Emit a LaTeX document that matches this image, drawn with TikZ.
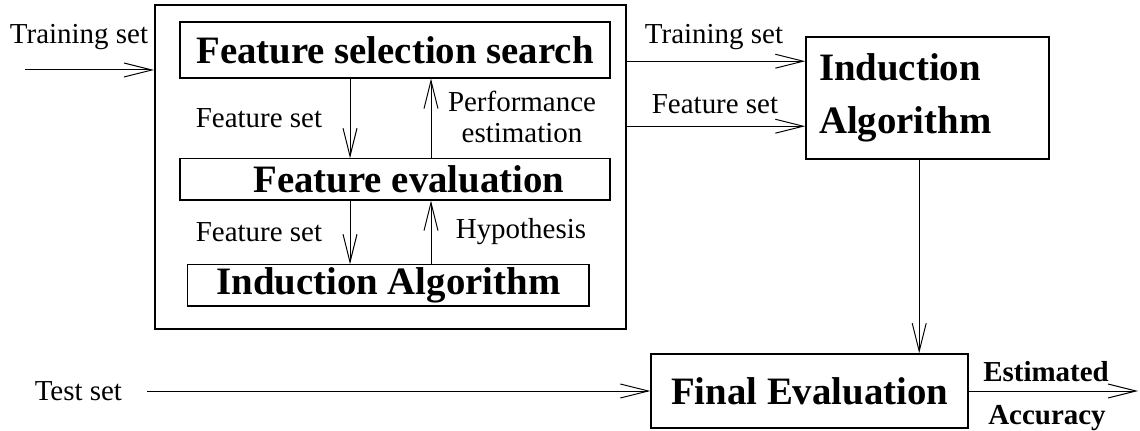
\documentclass[tikz,border=0pt]{standalone}
\usepackage{fontspec}
\setmainfont{Liberation Serif}
\usepackage{tikz}
\usetikzlibrary{arrows.meta, positioning, calc}

\tikzset{
    lbl/.style={font=\fontsize{20.6}{22}\selectfont},
    big/.style={font=\fontsize{27.6}{37.6}\selectfont\bfseries},
    inbox/.style={draw, line width=0.8pt, big, inner sep=0pt},
    mainbox/.style={draw, line width=1.1pt, big, inner sep=0pt},
    arr/.style={-{Straight Barb[length=0.7cm, width=0.35cm]}, line width=0.7pt}
}

\begin{document}
\begin{tikzpicture}
    \useasboundingbox (0, 0) rectangle (28.5, 10.775);

    % Wrapper around the selection loop
    \node[draw, line width=1.4pt, minimum width=11.775cm, minimum height=8.1cm, inner sep=0pt] (wrapper) at (9.7625, 6.6) {};

    % Inner boxes
    \node[inbox, minimum width=10.75cm, minimum height=1.4cm] (fss) at (9.875, 9.525) {Feature selection search};
    \node[inbox, minimum width=10.75cm, minimum height=1.03cm] (feval) at (9.875, 6.29) {\hspace*{0.7cm}Feature evaluation};
    \node[inbox, minimum width=10.03cm, minimum height=1.03cm] (iainner) at (9.71, 3.64) {Induction Algorithm};

    % Right and bottom boxes
    \node[mainbox, minimum width=6.075cm, minimum height=3.05cm, text width=5.425cm, align=left, inner xsep=0.325cm] (ia) at (23.19, 8.325) {Induction\\Algorithm};
    \node[mainbox, minimum width=7.925cm, minimum height=1.85cm] (final) at (20.24, 1.0) {Final Evaluation};

    % Loop arrows
    \coordinate (dn) at (8.75, 0);
    \coordinate (up) at (10.775, 0);
    \draw[arr] (fss.south -| dn) -- (feval.north -| dn);
    \draw[arr] (feval.north -| up) -- (fss.south -| up);
    \draw[arr] (feval.south -| dn) -- (iainner.north -| dn);
    \draw[arr] (iainner.north -| up) -- (feval.south -| up);
    \node[lbl] (fs1) at (6.475, 7.825) {Feature set};
    \node[lbl, align=center] (perf) at (13.05, 7.84) {Performance\\estimation};
    \node[lbl] (fs2) at (6.475, 4.975) {Feature set};
    \node[lbl] (hyp) at (13.025, 4.975) {Hypothesis};

    % Training set in
    \coordinate (trin) at (0.625, 9.025);
    \draw[arr] (trin) -- (trin -| wrapper.west);
    \node[lbl] (trlbl) at (1.975, 9.85) {Training set};

    % Into the induction algorithm
    \coordinate (tsR) at ([yshift=-0.625cm]ia.north west);
    \coordinate (fsR) at ([yshift=-2.25cm]ia.north west);
    \draw[arr] (wrapper.east |- tsR) -- (tsR);
    \draw[arr] (wrapper.east |- fsR) -- (fsR);
    \node[lbl] (trlblR) at (17.85, 9.85) {Training set};
    \node[lbl] (fslblR) at (17.875, 8.175) {Feature set};

    % Down to final evaluation
    \draw[arr] ([xshift=-0.21cm]ia.south) -- ([xshift=-0.21cm]ia.south |- final.north);

    % Test set and result
    \node[lbl] (test) at (1.96, 1.0) {Test set};
    \coordinate (tsin) at (3.675, 1.0);
    \draw[arr] (tsin) -- (final.west);
    \coordinate (out) at (28.45, 1.0);
    \draw[arr] (final.east) -- (out);
    \node[font=\fontsize{20.6}{22}\selectfont\bfseries] (est) at (26.15, 1.475) {Estimated};
    \node[font=\fontsize{20.6}{22}\selectfont\bfseries] (acc) at (26.175, 0.325) {Accuracy};

\end{tikzpicture}
\end{document}
